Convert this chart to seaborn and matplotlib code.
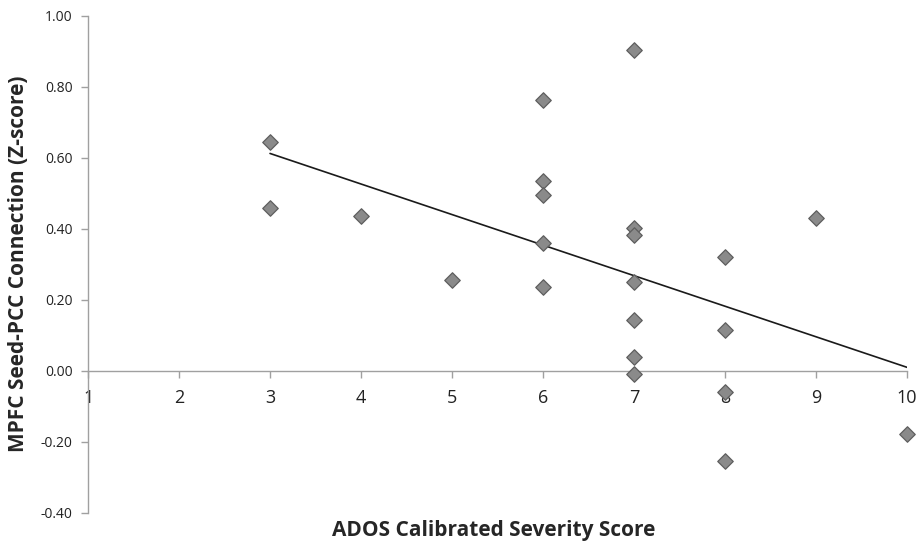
import numpy as np
import pandas as pd
import matplotlib
matplotlib.use("Agg")
import matplotlib.pyplot as plt
import seaborn as sns

# ADOS calibrated severity score vs MPFC seed-PCC connection (z-score)
ados_score = [3, 3, 4, 5,
              6, 6, 6, 6, 6,
              7, 7, 7, 7, 7, 7, 7,
              8, 8, 8, 8,
              9, 10]
connection_z = [0.644, 0.458, 0.437, 0.256,
                0.762, 0.534, 0.495, 0.361, 0.237,
                0.903, 0.401, 0.382, 0.249, 0.144, 0.038, -0.009,
                0.319, 0.115, -0.061, -0.254,
                0.430, -0.178]
x_ticks = [1, 2, 3, 4, 5, 6, 7, 8, 9, 10]
y_ticks = [-0.40, -0.20, 0.00, 0.20, 0.40, 0.60, 0.80, 1.00]

df = pd.DataFrame({"ados": ados_score, "z": connection_z})

sns.set_style("white")
plt.rcParams["font.family"] = ["Open Sans", "DejaVu Sans"]

fig = plt.figure(figsize=(9.19, 5.44), dpi=100)
ax = fig.add_axes([0.0958, 0.0575, 0.8912, 0.9137])

sns.regplot(data=df, x="ados", y="z", ax=ax, ci=None, marker="D",
            scatter_kws=dict(s=62, color="#8a8a8a", edgecolors="#5e5e5e",
                             linewidths=0.9, alpha=1, clip_on=False, zorder=3),
            line_kws=dict(color="#1a1a1a", linewidth=1.2, zorder=2))

ax.set_xlim(1, 10)
ax.set_ylim(-0.40, 1.00)
ax.set_xticks(x_ticks)
ax.set_yticks(y_ticks)
ax.set_yticklabels([f"{v:.2f}" for v in y_ticks])

for side in ["top", "right"]:
    ax.spines[side].set_visible(False)
ax.spines["bottom"].set_position(("data", 0))
for side in ["left", "bottom"]:
    ax.spines[side].set_color("#a0a0a0")
    ax.spines[side].set_linewidth(1.0)

ax.tick_params(axis="y", direction="out", length=5, width=1, color="#a0a0a0",
               labelsize=10, labelcolor="#222222", pad=6, left=True)
ax.tick_params(axis="x", direction="out", length=5, width=1, color="#a0a0a0",
               labelsize=13, labelcolor="#222222", pad=8, bottom=True)

ax.set_xlabel("ADOS Calibrated Severity Score", fontsize=15, fontweight="bold")
ax.set_ylabel("MPFC Seed-PCC Connection (Z-score)", fontsize=15, fontweight="bold")
ax.xaxis.set_label_coords(0.495, -0.015)
ax.yaxis.set_label_coords(-0.072, 0.5)

fig.savefig("out.png", dpi=100)
